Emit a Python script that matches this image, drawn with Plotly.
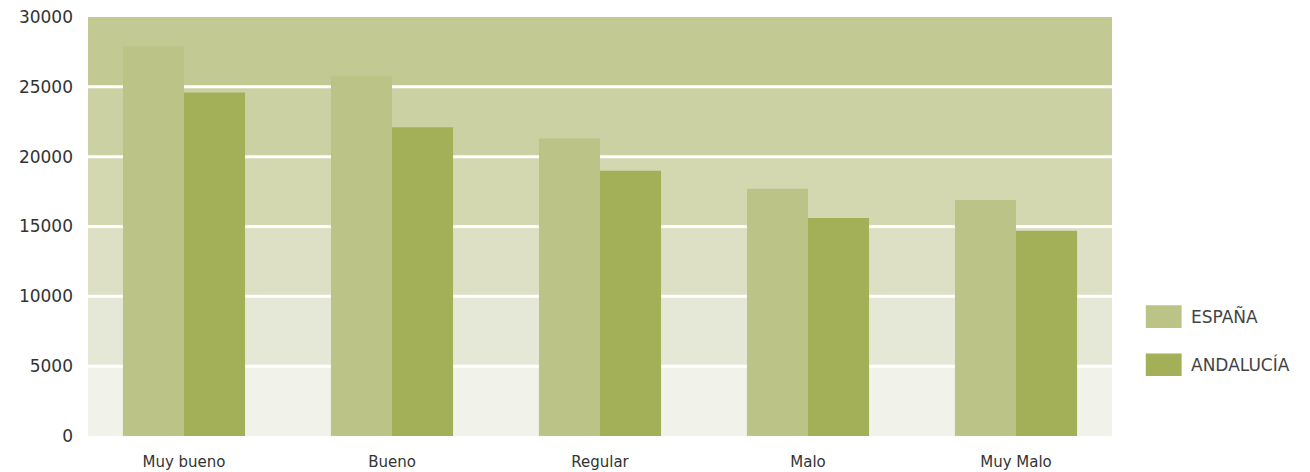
import plotly.graph_objects as go

categories = ["Muy bueno", "Bueno", "Regular", "Malo", "Muy Malo"]
espana = [27900, 25800, 21300, 17700, 16900]
andalucia = [24600, 22100, 19000, 15600, 14700]
series_names = ["ESPAÑA", "ANDALUCÍA"]
band_edges = [0, 5000, 10000, 15000, 20000, 25000, 30000]

band_colors = ["#f1f2ea", "#e5e8d6", "#dde0c4", "#d3d8b1", "#cbd1a3", "#c2c993"]
bar_colors = ["#bbc486", "#a3b058"]
font = "DejaVu Sans"

fig = go.Figure()
for name, vals, color in zip(series_names, [espana, andalucia], bar_colors):
    fig.add_trace(
        go.Bar(
            x=categories,
            y=vals,
            name=name,
            marker=dict(color=color, line=dict(width=0)),
            showlegend=False,
        )
    )

# background bands
shapes = []
for i in range(len(band_edges) - 1):
    shapes.append(dict(
        type="rect", xref="paper", yref="y", x0=0, x1=1,
        y0=band_edges[i], y1=band_edges[i + 1],
        fillcolor=band_colors[i], line=dict(width=0), layer="below",
    ))
# white separators between bands
for v in band_edges[1:-1]:
    shapes.append(dict(
        type="line", xref="paper", yref="y", x0=0, x1=1, y0=v, y1=v,
        line=dict(color="white", width=3), layer="below",
    ))

# custom legend with large swatches
annotations = []
legend_y = [0.285, 0.17]
for name, color, ly in zip(series_names, bar_colors, legend_y):
    shapes.append(dict(
        type="rect", xref="paper", yref="paper",
        x0=1.033, x1=1.068, y0=ly - 0.027, y1=ly + 0.027,
        fillcolor=color, line=dict(width=0),
    ))
    annotations.append(dict(
        xref="paper", yref="paper", x=1.075, y=ly, text=name,
        showarrow=False, xanchor="left", yanchor="middle",
        font=dict(family=font, size=17, color="#444"),
    ))

fig.update_layout(
    width=1310,
    height=472,
    margin=dict(l=88, r=198, t=17, b=36),
    paper_bgcolor="white",
    plot_bgcolor="white",
    barmode="group",
    bargap=0.413,
    bargroupgap=0,
    shapes=shapes,
    annotations=annotations,
    font=dict(family=font, color="#444"),
    xaxis=dict(
        range=[-0.4615, 4.4615],
        showgrid=False,
        showline=False,
        zeroline=False,
        ticks="",
        automargin=False,
        ticklabelstandoff=15,
        tickfont=dict(size=15, color="#333"),
    ),
    yaxis=dict(
        range=[0, 30000],
        tickvals=band_edges,
        tickformat="d",
        showgrid=False,
        zeroline=False,
        showline=False,
        ticks="",
        automargin=False,
        ticklabelstandoff=14,
        tickfont=dict(size=17, color="#333"),
    ),
)

# drop the default 8px page margin so the figure sits at the window origin
fig.write_html(
    "out.html",
    config={"displayModeBar": False},
    post_script="document.body.style.margin='0';",
)
